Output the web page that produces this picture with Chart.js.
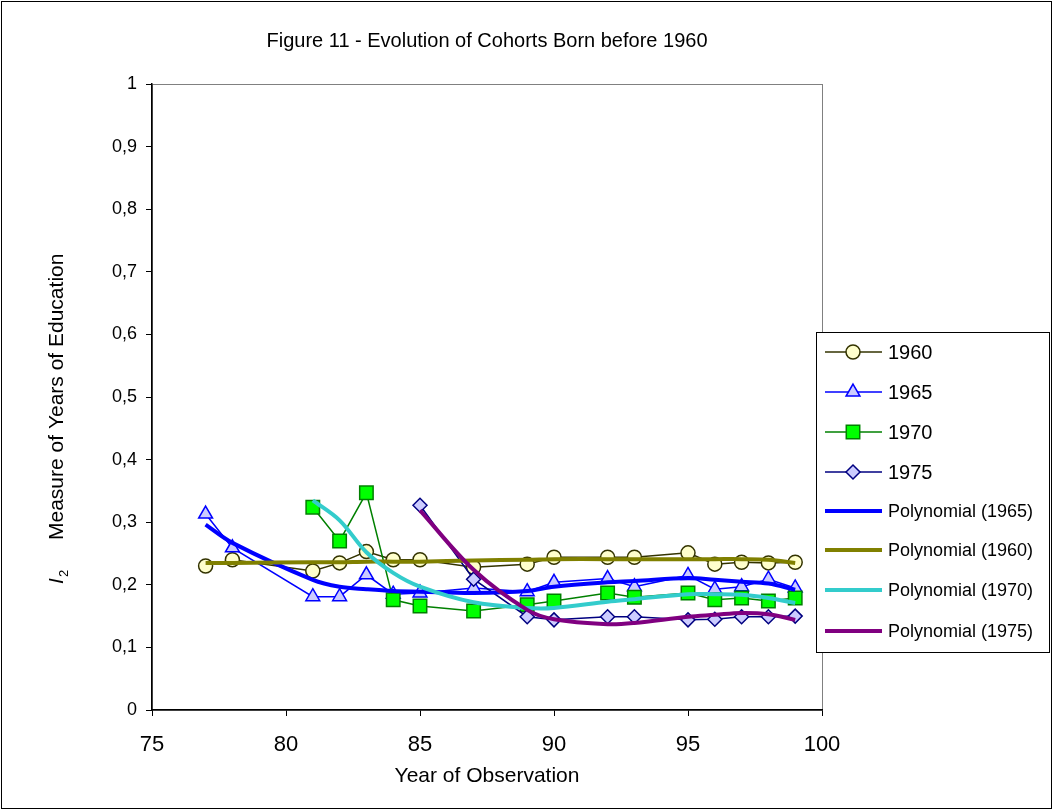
<!DOCTYPE html>
<html>
<head>
<meta charset="utf-8">
<script src="https://cdn.jsdelivr.net/npm/chart.js@4/dist/chart.umd.min.js"></script>
<style>
html,body{margin:0;padding:0;background:#fff;}
canvas{display:block;}
</style>
</head>
<body>
<canvas id="c" width="1053" height="810"></canvas>
<script>
// ---- data ----
const titleText = "Figure 11 - Evolution of Cohorts Born before 1960";
const xTitle = "Year of Observation";
const yTitleMain = "Measure of Years of Education";
const xTicks = [75, 80, 85, 90, 95, 100];
const yTicks = [0, 0.1, 0.2, 0.3, 0.4, 0.5, 0.6, 0.7, 0.8, 0.9, 1];

const years1960 = [77,78,81,82,83,84,85,87,89,90,92,93,95,96,97,98,99];
const vals1960  = [0.230,0.240,0.222,0.235,0.253,0.240,0.240,0.228,0.233,0.244,0.244,0.244,0.251,0.233,0.236,0.235,0.236];
const years1965 = [77,78,81,82,83,84,85,87,89,90,92,93,95,96,97,98,99];
const vals1965  = [0.313,0.259,0.181,0.181,0.216,0.185,0.187,0.195,0.189,0.204,0.210,0.197,0.215,0.193,0.197,0.209,0.195];
const years1970 = [81,82,83,84,85,87,89,90,92,93,95,96,97,98,99];
const vals1970  = [0.324,0.270,0.347,0.176,0.166,0.158,0.168,0.174,0.187,0.180,0.187,0.176,0.179,0.174,0.179];
const years1975 = [85,87,89,90,92,93,95,96,97,98,99];
const vals1975  = [0.327,0.209,0.149,0.144,0.149,0.149,0.144,0.145,0.149,0.149,0.150];

// trend (polynomial) lines at the observation years
const trend1960 = [0.235,0.235,0.236,0.236,0.237,0.237,0.237,0.239,0.240,0.241,0.241,0.241,0.241,0.241,0.241,0.240,0.235];
const trend1965 = [0.296,0.267,0.208,0.197,0.193,0.190,0.189,0.187,0.190,0.197,0.204,0.206,0.211,0.208,0.205,0.202,0.192];
const trend1970 = [0.335,0.303,0.252,0.219,0.197,0.172,0.163,0.163,0.173,0.177,0.185,0.185,0.184,0.179,0.171];
const trend1975 = [0.319,0.224,0.160,0.145,0.137,0.139,0.149,0.152,0.155,0.153,0.144];

const seriesLabels = ["1960","1965","1970","1975","Polynomial (1965)","Polynomial (1960)","Polynomial (1970)","Polynomial (1975)"];

const pts = (xs, ys) => xs.map((x, i) => ({x: x, y: ys[i]}));

const FONT = "'Liberation Sans', Arial, sans-serif";

const datasets = [
  {label: seriesLabels[0], data: pts(years1960, vals1960), showLine: true, borderColor: '#333300', borderWidth: 1.5,
   pointStyle: 'circle', pointRadius: 7, pointBackgroundColor: '#FFFFCC', pointBorderColor: '#333300', pointBorderWidth: 1.5, order: 20},
  {label: seriesLabels[1], data: pts(years1965, vals1965), showLine: true, borderColor: '#0000FF', borderWidth: 1.5,
   pointStyle: 'triangle', pointRadius: 8, pointBackgroundColor: '#CCCCFF', pointBorderColor: '#0000FF', pointBorderWidth: 1.5, order: 19},
  {label: seriesLabels[2], data: pts(years1970, vals1970), showLine: true, borderColor: '#008000', borderWidth: 1.5,
   pointStyle: 'rect', pointRadius: 9.5, pointBackgroundColor: '#00FF00', pointBorderColor: '#008000', pointBorderWidth: 1.5, order: 18},
  {label: seriesLabels[3], data: pts(years1975, vals1975), showLine: true, borderColor: '#000080', borderWidth: 1.5,
   pointStyle: 'rectRot', pointRadius: 7, pointBackgroundColor: '#CCCCFF', pointBorderColor: '#000080', pointBorderWidth: 1.5, order: 17},
  {label: seriesLabels[4], data: pts(years1965, trend1965), showLine: true, borderColor: '#0000FF', borderWidth: 4,
   pointRadius: 0, tension: 0.35, order: 4},
  {label: seriesLabels[5], data: pts(years1960, trend1960), showLine: true, borderColor: '#808000', borderWidth: 4,
   pointRadius: 0, tension: 0.35, order: 3},
  {label: seriesLabels[6], data: pts(years1970, trend1970), showLine: true, borderColor: '#33CCCC', borderWidth: 4,
   pointRadius: 0, tension: 0.35, order: 2},
  {label: seriesLabels[7], data: pts(years1975, trend1975), showLine: true, borderColor: '#800080', borderWidth: 4,
   pointRadius: 0, tension: 0.35, order: 1}
];

function drawMarker(ctx, style, x, y, r, fill, stroke) {
  ctx.save();
  ctx.beginPath();
  if (style === 'circle') {
    ctx.arc(x, y, r, 0, Math.PI * 2);
  } else if (style === 'triangle') {
    ctx.moveTo(x, y - r);
    ctx.lineTo(x + r * Math.sin(2 * Math.PI / 3), y - r * Math.cos(2 * Math.PI / 3));
    ctx.lineTo(x + r * Math.sin(4 * Math.PI / 3), y - r * Math.cos(4 * Math.PI / 3));
    ctx.closePath();
  } else if (style === 'rect') {
    const s = r * Math.SQRT1_2;
    ctx.rect(x - s, y - s, 2 * s, 2 * s);
  } else if (style === 'rectRot') {
    ctx.moveTo(x - r, y); ctx.lineTo(x, y - r); ctx.lineTo(x + r, y); ctx.lineTo(x, y + r); ctx.closePath();
  }
  ctx.fillStyle = fill; ctx.fill();
  ctx.lineWidth = 1.5; ctx.strokeStyle = stroke; ctx.stroke();
  ctx.restore();
}

const decor = {
  id: 'decor',
  beforeDraw(chart) {
    const ctx = chart.ctx, a = chart.chartArea;
    ctx.save();
    ctx.fillStyle = '#fff';
    ctx.fillRect(0, 0, chart.width, chart.height);
    ctx.strokeStyle = '#000'; ctx.lineWidth = 1;
    ctx.strokeRect(1.5, 1.5, chart.width - 3, chart.height - 3);
    ctx.strokeStyle = '#808080';
    ctx.strokeRect(Math.round(a.left) + 0.5, Math.round(a.top) + 0.5, Math.round(a.right - a.left), Math.round(a.bottom - a.top));
    ctx.restore();
  },
  afterDraw(chart) {
    const ctx = chart.ctx, a = chart.chartArea;
    ctx.save();
    ctx.fillStyle = '#000';
    // title
    ctx.font = "20px " + FONT;
    ctx.textAlign = 'center'; ctx.textBaseline = 'middle';
    ctx.fillText(titleText, 487, 41);
    // x title
    ctx.font = "21px " + FONT;
    ctx.fillText(xTitle, (a.left + a.right) / 2, 776);
    // y title (rotated)
    ctx.save();
    ctx.translate(63, 584);
    ctx.rotate(-Math.PI / 2);
    ctx.textAlign = 'left'; ctx.textBaseline = 'alphabetic';
    ctx.font = "italic 21px " + FONT;
    ctx.fillText("I", 0, 0);
    ctx.font = "13px " + FONT;
    ctx.fillText("2", 7, 5);
    ctx.font = "21px " + FONT;
    ctx.fillText(yTitleMain, 44, 0);
    ctx.restore();

    // legend
    const L = 816, T = 332, R = 1049, B = 652;
    ctx.fillStyle = '#fff';
    ctx.fillRect(L, T, R - L, B - T);
    ctx.strokeStyle = '#000'; ctx.lineWidth = 1;
    ctx.strokeRect(L + 0.5, T + 0.5, R - L, B - T);
    const rowsY = [352, 392, 432, 472, 511, 550, 590, 631];
    chart.data.datasets.forEach((ds, i) => {
      const y = rowsY[i];
      ctx.beginPath();
      ctx.strokeStyle = ds.borderColor;
      ctx.lineWidth = ds.borderWidth;
      ctx.moveTo(825, y); ctx.lineTo(882, y); ctx.stroke();
      if (ds.pointRadius > 0) {
        drawMarker(ctx, ds.pointStyle, 853, y, ds.pointRadius, ds.pointBackgroundColor, ds.pointBorderColor);
      }
      ctx.fillStyle = '#000';
      ctx.textAlign = 'left'; ctx.textBaseline = 'middle';
      ctx.font = (i < 4 ? "20px " : "18px ") + FONT;
      ctx.fillText(ds.label, 888, y + 1);
    });
    ctx.restore();
  }
};

new Chart(document.getElementById('c'), {
  type: 'scatter',
  data: {datasets: datasets},
  options: {
    responsive: false,
    animation: false,
    devicePixelRatio: 1,
    layout: {padding: {left: 0, right: 231, top: 84, bottom: 0}},
    plugins: {legend: {display: false}, title: {display: false}, tooltip: {enabled: false}},
    scales: {
      x: {
        type: 'linear', min: 75, max: 100,
        afterFit: s => { s.height = 100; },
        afterBuildTicks: s => { s.ticks = xTicks.map(v => ({value: v})); },
        ticks: {color: '#000', font: {family: FONT, size: 22}, padding: 16, maxRotation: 0,
                callback: v => String(v)},
        grid: {drawOnChartArea: false, drawTicks: true, tickLength: 6, color: '#000', lineWidth: 1},
        border: {display: true, color: '#000', width: 1.5}
      },
      y: {
        type: 'linear', min: 0, max: 1,
        afterFit: s => { s.width = 152; },
        afterBuildTicks: s => { s.ticks = yTicks.map(v => ({value: v})); },
        ticks: {color: '#000', font: {family: FONT, size: 18}, padding: 9,
                callback: v => String(Math.round(v * 10) / 10).replace('.', ',')},
        grid: {drawOnChartArea: false, drawTicks: true, tickLength: 6, color: '#000', lineWidth: 1},
        border: {display: true, color: '#000', width: 1.5}
      }
    }
  },
  plugins: [decor]
});
</script>
</body>
</html>
